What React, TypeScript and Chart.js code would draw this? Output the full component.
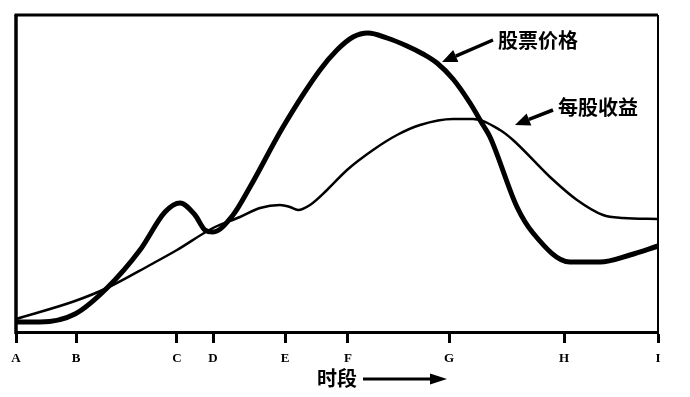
import React, { useEffect, useRef } from "react";
import { Chart, registerables } from "chart.js";

Chart.register(...registerables);

// Time axis: positions of the period marks along the horizontal axis and their labels
const xTickValues = [0, 60, 161, 197, 269, 332, 433, 548, 642];
const xTickLabels = ["A", "B", "C", "D", "E", "F", "G", "H", "I"];

// 股票价格 (stock price) — thick curve
const priceX = [0, 24, 59, 91, 124, 149, 164, 179, 189, 197, 217, 234, 267, 304, 321, 337, 352, 371, 391, 407, 421, 437, 454, 467, 474, 501, 517, 554, 584, 614, 642];
const priceY = [10, 10, 18, 44, 82, 120, 129, 117, 102, 100, 117, 145, 205, 262, 282, 295, 299, 294, 286, 278, 269, 253, 229, 207, 195, 125, 99, 70, 70, 77, 86];

// 每股收益 (earnings per share) — thin curve
const epsX = [0, 59, 91, 134, 161, 197, 224, 244, 264, 274, 282, 294, 311, 331, 357, 381, 404, 437, 457, 484, 497, 534, 561, 587, 607, 642];
const epsY = [13, 31, 44, 67, 82, 104, 115, 124, 127, 125, 122, 127, 142, 162, 182, 197, 207, 213, 213, 202, 192, 155, 132, 117, 114, 113];

const seriesLabels = ["股票价格", "每股收益"];
const xTitle = "时段";

const CJK = '"Noto Sans CJK SC", "Noto Sans", sans-serif';

function drawArrow(ctx: CanvasRenderingContext2D, x1: number, y1: number, x2: number, y2: number, lw: number, headLen: number, headW: number) {
  const ang = Math.atan2(y2 - y1, x2 - x1);
  const bx = x2 - Math.cos(ang) * headLen;
  const by = y2 - Math.sin(ang) * headLen;
  ctx.save();
  ctx.strokeStyle = "#000";
  ctx.fillStyle = "#000";
  ctx.lineWidth = lw;
  ctx.beginPath();
  ctx.moveTo(x1, y1);
  ctx.lineTo(bx, by);
  ctx.stroke();
  ctx.beginPath();
  ctx.moveTo(x2, y2);
  ctx.lineTo(bx + Math.sin(ang) * headW, by - Math.cos(ang) * headW);
  ctx.lineTo(bx - Math.sin(ang) * headW, by + Math.cos(ang) * headW);
  ctx.closePath();
  ctx.fill();
  ctx.restore();
}

const framePlugin = {
  id: "frame",
  beforeDatasetsDraw(chart: any) {
    const { ctx, chartArea } = chart;
    const { left, top, right, bottom } = chartArea;
    ctx.save();
    ctx.strokeStyle = "#000";
    ctx.lineWidth = 3.5;
    ctx.beginPath();
    ctx.moveTo(left, bottom + 2);
    ctx.lineTo(left, top);
    ctx.stroke();
    ctx.lineWidth = 3;
    ctx.beginPath();
    ctx.moveTo(left - 1.5, top);
    ctx.lineTo(right, top);
    ctx.stroke();
    ctx.lineWidth = 2;
    ctx.beginPath();
    ctx.moveTo(right, top);
    ctx.lineTo(right, bottom);
    ctx.stroke();
    ctx.restore();
  },
};

const annotationPlugin = {
  id: "annotations",
  afterDraw(chart: any) {
    const { ctx, scales, chartArea } = chart;
    const xs = scales.x;
    const ys = scales.y;
    const notes = [
      { text: seriesLabels[0], tx: 482, ty: 292, ax1: 477, ay1: 292, ax2: 426, ay2: 270 },
      { text: seriesLabels[1], tx: 542, ty: 225, ax1: 537, ay1: 222, ax2: 499, ay2: 207 },
    ];
    ctx.save();
    ctx.font = `bold 20px ${CJK}`;
    ctx.fillStyle = "#000";
    ctx.textBaseline = "middle";
    ctx.textAlign = "left";
    for (const n of notes) {
      ctx.fillText(n.text, xs.getPixelForValue(n.tx), ys.getPixelForValue(n.ty));
      drawArrow(
        ctx,
        xs.getPixelForValue(n.ax1),
        ys.getPixelForValue(n.ay1),
        xs.getPixelForValue(n.ax2),
        ys.getPixelForValue(n.ay2),
        3.5,
        15,
        6.5
      );
    }
    // arrow after the axis title
    const ay = chartArea.bottom + 47;
    drawArrow(ctx, xs.getPixelForValue(347), ay, xs.getPixelForValue(431), ay, 3, 17, 5.5);
    ctx.restore();
  },
};

export default function App() {
  const ref = useRef<HTMLCanvasElement | null>(null);

  useEffect(() => {
    if (!ref.current) return;
    const chart = new Chart(ref.current, {
      type: "line",
      data: {
        datasets: [
          {
            label: seriesLabels[0],
            data: priceX.map((x, i) => ({ x, y: priceY[i] })),
            borderColor: "#000",
            borderWidth: 5,
            pointRadius: 0,
            cubicInterpolationMode: "monotone",
            fill: false,
          },
          {
            label: seriesLabels[1],
            data: epsX.map((x, i) => ({ x, y: epsY[i] })),
            borderColor: "#000",
            borderWidth: 2.5,
            pointRadius: 0,
            cubicInterpolationMode: "monotone",
            fill: false,
          },
        ],
      },
      options: {
        responsive: false,
        animation: false,
        layout: { padding: { left: 16, right: 32, top: 15, bottom: 0 } },
        plugins: {
          legend: { display: false },
          tooltip: { enabled: false },
          title: { display: false },
        },
        scales: {
          x: {
            type: "linear",
            min: 0,
            max: 642,
            afterBuildTicks: (scale: any) => {
              scale.ticks = xTickValues.map((v) => ({ value: v }));
            },
            afterFit: (scale: any) => {
              scale.height = 65;
            },
            ticks: {
              autoSkip: false,
              maxRotation: 0,
              padding: 8,
              color: "#000",
              font: { family: '"Liberation Serif", "DejaVu Serif", serif', weight: "bold", size: 13 },
              callback: (_v: any, i: number) => xTickLabels[i],
            },
            grid: {
              drawOnChartArea: false,
              drawTicks: true,
              tickLength: 11,
              tickWidth: 3,
              tickColor: "#000",
            },
            border: { display: true, color: "#000", width: 3 },
            title: {
              display: true,
              text: xTitle,
              color: "#000",
              font: { family: CJK, weight: "bold", size: 20 },
              padding: { top: 0, bottom: 7 },
            },
          },
          y: {
            display: false,
            min: 0,
            max: 317,
          },
        },
      },
      plugins: [framePlugin, annotationPlugin],
    } as any);
    return () => chart.destroy();
  }, []);

  return (
    <div style={{ position: "fixed", left: 0, top: 0, width: 690, height: 397, background: "#fff" }}>
      <canvas ref={ref} width={690} height={397} />
    </div>
  );
}
